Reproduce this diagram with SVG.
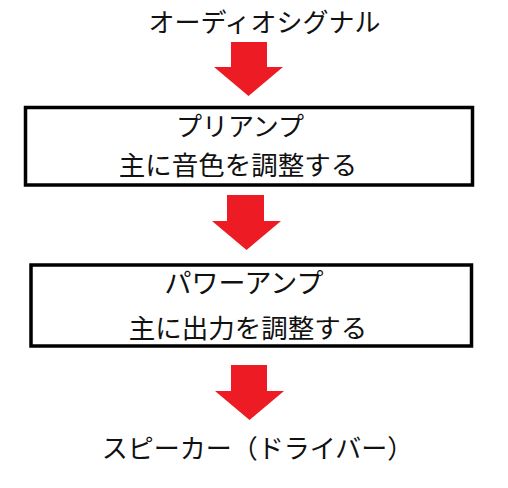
<svg xmlns="http://www.w3.org/2000/svg" width="508" height="488" viewBox="0 0 508 488">
<style>
.t{font-family:"Noto Sans CJK JP","Noto Sans",sans-serif;font-size:26px;fill:#111;text-anchor:middle}
.box{fill:#fff;stroke:#000;stroke-width:3.5}
.arr{fill:#ED1C24}
</style>
<rect width="508" height="488" fill="#fff"/>
<g id="signal"><text class="t" x="264.5" y="32">オーディオシグナル</text></g>
<g id="preamp">
<rect class="box" x="25.5" y="107.5" width="447" height="77.5"/>
<text class="t" x="240" y="136">プリアンプ</text>
<text class="t" x="238" y="175" style="font-size:26.5px">主に音色を調整する</text>
</g>
<g id="poweramp">
<rect class="box" x="31" y="265" width="440.5" height="81"/>
<text class="t" x="244" y="293" style="font-size:27px">パワーアンプ</text>
<text class="t" x="248" y="338" style="font-size:26.5px">主に出力を調整する</text>
</g>
<g id="speaker"><text class="t" x="257.5" y="458">スピーカー（ドライバー）</text></g>
<g id="connectors">
<polygon class="arr" points="231,42 267,42 267,67 283,67 248.5,96 214,67 231,67"/>
<polygon class="arr" points="227,195 264,195 264,221 281,221 246.5,250 212,221 227,221"/>
<polygon class="arr" points="231,365 267,365 267,391 284,391 249.5,420 215,391 231,391"/>
</g>
</svg>
